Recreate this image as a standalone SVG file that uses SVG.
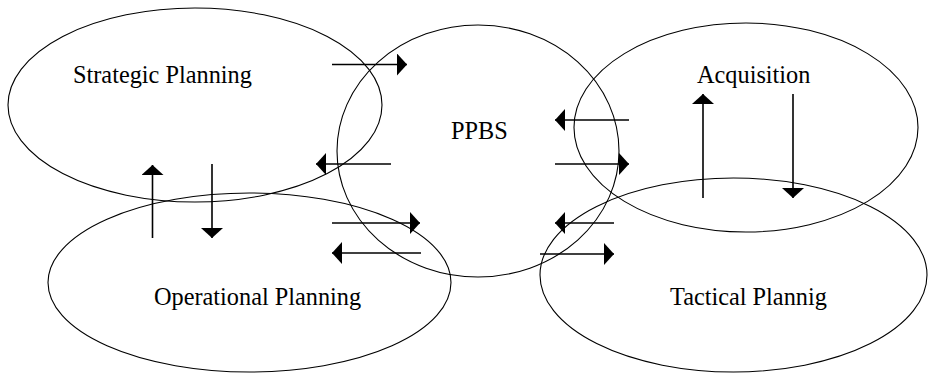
<svg xmlns="http://www.w3.org/2000/svg" width="928" height="373" viewBox="0 0 928 373">
<style>
.n{fill:none;stroke:#000;stroke-width:1.1}
.t{font-family:"Liberation Serif","Times New Roman",serif;font-size:24.3px;fill:#000}
.c{stroke:#000;stroke-width:1.6;fill:none;marker-end:url(#ah)}
</style>
<defs>
<marker id="ah" viewBox="0 0 10 22" refX="10" refY="11" markerWidth="10" markerHeight="22" markerUnits="userSpaceOnUse" orient="auto">
<path d="M0,0 L10,11 L0,22 Z" fill="#000"/>
</marker>
</defs>
<rect width="928" height="373" fill="#fff"/>
<g id="strategic"><ellipse class="n" cx="195" cy="105" rx="187" ry="97"/><text class="t" x="73" y="83">Strategic Planning</text></g>
<g id="ppbs"><ellipse class="n" cx="478" cy="151" rx="141" ry="126"/><text class="t" x="451" y="139">PPBS</text></g>
<g id="acquisition"><ellipse class="n" cx="746" cy="127.5" rx="172" ry="104.5"/><text class="t" x="697" y="83">Acquisition</text></g>
<g id="operational"><ellipse class="n" cx="249.5" cy="282.5" rx="201.5" ry="89.5"/><text class="t" x="154" y="305">Operational Planning</text></g>
<g id="tactical"><ellipse class="n" cx="733.5" cy="275" rx="193.5" ry="97"/><text class="t" x="670" y="305">Tactical Plannig</text></g>
<g id="connectors">
<line class="c" x1="332" y1="64.5" x2="407" y2="64.5"/>
<line class="c" x1="391" y1="164" x2="316" y2="164"/>
<line class="c" x1="332" y1="223" x2="420" y2="223"/>
<line class="c" x1="421" y1="253" x2="332" y2="253"/>
<line class="c" x1="629" y1="120" x2="555" y2="120"/>
<line class="c" x1="555" y1="164" x2="629" y2="164"/>
<line class="c" x1="614" y1="223" x2="555" y2="223"/>
<line class="c" x1="540" y1="254" x2="614" y2="254"/>
<line class="c" x1="152.5" y1="238" x2="152.5" y2="165"/>
<line class="c" x1="212" y1="164" x2="212" y2="238"/>
<line class="c" x1="703" y1="198" x2="703" y2="94"/>
<line class="c" x1="793" y1="94" x2="793" y2="198"/>
</g>
</svg>
